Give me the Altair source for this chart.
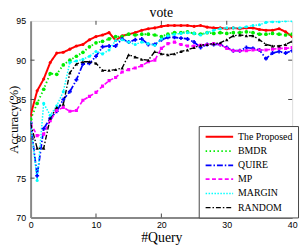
import altair as alt
import pandas as pd

queries = list(range(41))

proposed = [83.0, 86.1, 87.6, 89.7, 90.9, 91.0, 91.4, 91.8, 92.0, 92.6, 93.0, 93.2, 93.5, 92.5,
            93.1, 93.3, 93.5, 93.8, 94.0, 94.1, 94.3, 94.4, 94.4, 94.4, 94.4, 94.3, 94.4, 94.2,
            94.1, 94.1, 94.0, 94.1, 94.0, 94.1, 94.1, 93.9, 93.8, 93.8, 94.0, 93.6, 93.0]
bmdr = [82.5, 84.5, 86.3, 88.3, 88.2, 89.4, 90.0, 90.5, 91.0, 91.7, 92.2, 92.4, 92.7, 93.0,
        93.0, 93.3, 93.2, 93.3, 93.3, 93.2, 93.0, 93.3, 93.5, 93.5, 93.6, 93.4, 93.3, 93.5,
        93.4, 93.5, 93.4, 93.5, 93.5, 93.6, 93.5, 93.3, 93.3, 93.4, 93.3, 93.2, 93.3]
quire = [82.0, 75.3, 81.3, 82.6, 83.5, 85.0, 86.0, 87.5, 89.5, 89.6, 90.5, 91.7, 91.8, 91.8,
         92.7, 92.3, 92.6, 92.7, 92.0, 92.0, 92.6, 92.9, 92.9, 92.8, 92.7, 92.3, 91.6, 92.0,
         92.0, 92.0, 91.6, 91.2, 91.2, 91.6, 91.5, 91.3, 90.2, 90.9, 91.1, 90.9, 91.2]
mp = [82.0, 80.4, 80.6, 82.3, 83.6, 84.0, 83.5, 83.6, 84.9, 85.4, 85.9, 86.7, 87.4, 87.8,
      88.5, 88.8, 89.0, 89.3, 89.8, 90.0, 91.5, 92.1, 92.3, 92.0, 91.8, 91.8, 91.9, 92.0,
      92.1, 92.0, 91.5, 91.2, 91.2, 91.2, 91.3, 91.3, 91.3, 91.4, 91.5, 91.5, 91.6]
margin = [82.0, 74.7, 84.5, 83.0, 84.2, 86.0, 89.7, 89.9, 90.1, 90.5, 91.1, 90.8, 91.3, 92.5,
          92.6, 92.3, 92.0, 92.3, 92.1, 91.9, 92.7, 93.1, 93.3, 93.4, 93.5, 93.4, 93.2, 93.5,
          93.8, 94.0, 94.1, 94.1, 94.1, 94.25, 94.4, 94.5, 94.8, 94.9, 94.9, 95.0, 95.0]
random_ = [82.0, 78.8, 78.8, 82.6, 84.0, 84.4, 88.4, 89.5, 89.8, 89.8, 89.6, 88.7, 88.7, 88.8,
           89.0, 90.7, 90.4, 90.1, 90.0, 91.1, 90.8, 90.7, 90.8, 91.1, 91.3, 91.6, 91.9, 92.0,
           92.1, 92.2, 92.6, 93.1, 93.2, 93.1, 93.1, 92.6, 92.0, 91.8, 91.8, 92.0, 92.4]

series_names = ["The Proposed", "BMDR", "QUIRE", "MP", "MARGIN", "RANDOM"]
series_values = [proposed, bmdr, quire, mp, margin, random_]

x_ticks = [0, 10, 20, 30, 40]
y_ticks = [70, 75, 80, 85, 90, 95]
x_inner_ticks = [10, 20, 30]
y_inner_ticks = [75, 80, 85, 90]

colors = ["#ff0000", "#00ee00", "#0000ff", "#ff00ff", "#00ffff", "#000000"]
dashes = [[1, 0], [1.5, 2.5], [6, 2, 1.5, 2], [4, 2.5], [1.5, 1.5], [5, 2, 1.5, 2]]
widths = [2.0, 1.4, 1.3, 1.3, 1.3, 1.1]
shapes = ["circle", "circle", "cross", "square", "circle", "triangle-up"]
sizes = [10, 14, 16, 10, 10, 12]

rows = []
for name, vals in zip(series_names, series_values):
    for q, v in zip(queries, vals):
        rows.append({"series": name, "q": q, "acc": v})
df = pd.DataFrame(rows)

serif = "Liberation Serif"
sans = "Liberation Sans"

color_scale = alt.Scale(domain=series_names, range=colors)
dash_scale = alt.Scale(domain=series_names, range=dashes)
width_scale = alt.Scale(domain=series_names, range=widths)

xs = alt.Scale(domain=[0, 40], nice=False)
ys = alt.Scale(domain=[70, 95], nice=False, zero=False)

x_axis = alt.Axis(
    values=x_ticks, title="#Query", grid=False, ticks=False, tickSize=0,
    labelFont=sans, labelFontSize=9, labelColor="black", labelPadding=3,
    labelOverlap=False, labelFlush=False,
    titleFont=serif, titleFontSize=14, titleFontWeight="normal", titleColor="black",
    titlePadding=1, domainColor="#888888", domainWidth=2)
y_axis = alt.Axis(
    values=y_ticks, title="Accuracy(%)", grid=False, ticks=False, tickSize=0,
    labelFont=sans, labelFontSize=9, labelColor="black", labelPadding=5,
    labelOverlap=False, labelFlush=False,
    titleFont=serif, titleFontSize=13, titleFontWeight="normal", titleColor="black",
    titleX=-10, titleY=100, domainColor="#888888", domainWidth=2)

sym_path = "M-3,0H3"
leg = alt.Legend(title=None, orient="none", legendX=171, legendY=107,
                 symbolType=sym_path, symbolSize=87, symbolStrokeWidth=1.5,
                 symbolOffset=10, labelOffset=13,
                 labelFont=serif, labelFontSize=10, labelColor="black",
                 fillColor="white", strokeColor="#444444", padding=5,
                 rowPadding=3.5)

lines = alt.Chart(df).mark_line(clip=True).encode(
    x=alt.X("q:Q", scale=xs, axis=x_axis),
    y=alt.Y("acc:Q", scale=ys, axis=y_axis),
    color=alt.Color("series:N", scale=color_scale, sort=series_names, legend=leg),
    strokeDash=alt.StrokeDash("series:N", scale=dash_scale, sort=series_names, legend=leg),
    strokeWidth=alt.StrokeWidth("series:N", scale=width_scale, legend=None),
    order="q:Q",
)

point_layers = []
for name, col, shp, sz in zip(series_names, colors, shapes, sizes):
    point_layers.append(
        alt.Chart(df).transform_filter(alt.datum.series == name)
        .mark_point(filled=True, size=sz, opacity=1, shape=shp, color=col, clip=True)
        .encode(x=alt.X("q:Q", scale=xs, axis=x_axis), y=alt.Y("acc:Q", scale=ys, axis=y_axis))
    )

xt = pd.DataFrame({"v": x_inner_ticks})
yt = pd.DataFrame({"v": y_inner_ticks})
tick_style = dict(color="#444444", strokeWidth=1)
bottom_ticks = alt.Chart(xt).mark_rule(**tick_style).encode(
    x=alt.X("v:Q", scale=xs, axis=x_axis), y=alt.value(200), y2=alt.value(196))
top_ticks = alt.Chart(xt).mark_rule(**tick_style).encode(
    x=alt.X("v:Q", scale=xs, axis=x_axis), y=alt.value(0), y2=alt.value(4))
left_ticks = alt.Chart(yt).mark_rule(**tick_style).encode(
    y=alt.Y("v:Q", scale=ys, axis=y_axis), x=alt.value(0), x2=alt.value(4))
right_ticks = alt.Chart(yt).mark_rule(**tick_style).encode(
    y=alt.Y("v:Q", scale=ys, axis=y_axis), x=alt.value(266), x2=alt.value(262))

chart = alt.layer(lines, *point_layers, bottom_ticks, top_ticks, left_ticks, right_ticks).properties(
    width=266, height=200,
    title=alt.TitleParams("vote", font=serif, fontSize=14, fontWeight="normal", color="black",
                          anchor="middle", offset=-3.5),
    autosize=alt.AutoSizeParams(type="none"),
    padding={"left": 23, "top": 11, "right": 8, "bottom": 30},
).configure_view(stroke="#333333", strokeWidth=1).configure(background="white")

chart.save("out.html", embed_options={"renderer": "svg", "actions": False})
